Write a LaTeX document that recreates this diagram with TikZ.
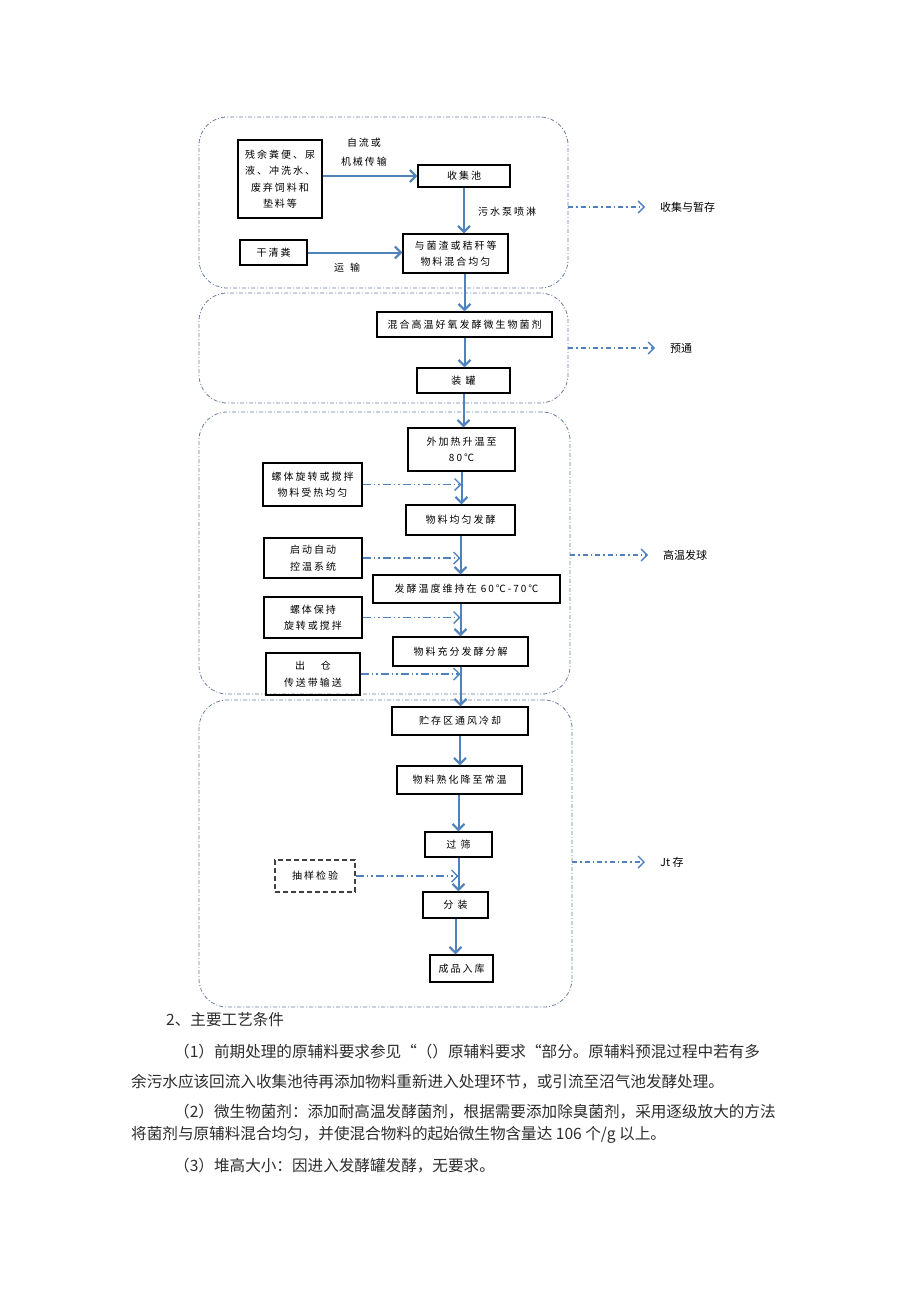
\documentclass[tikz,border=0pt]{standalone}
\usepackage{fontspec}
\usetikzlibrary{arrows.meta}
\newfontfamily\cjk{Noto Sans CJK SC}
\newfontfamily\cjkbox[LetterSpace=20]{Noto Sans CJK SC}
\definecolor{flowblue}{RGB}{79,129,189}
\definecolor{grpgray}{RGB}{110,128,158}
\definecolor{bodygray}{RGB}{45,45,45}

\begin{document}
\begin{tikzpicture}[x=1pt, y=-1pt,
    box/.style={draw, line width=1.4pt, inner sep=0pt, align=center,
        font=\cjkbox\fontsize{10}{16.5}\selectfont},
    grp/.style={draw=grpgray, line width=0.8pt, rounded corners=28pt,
        dash pattern=on 4pt off 2pt on 1pt off 2pt, inner sep=0pt},
    flow/.style={draw=flowblue, line width=2pt, -{Straight Barb[length=6pt,width=12pt]}},
    feed/.style={flow, line width=1.4pt, dash pattern=on 8pt off 3pt on 1.5pt off 3pt on 1.5pt off 3pt},
    stage/.style={flow, line width=1.4pt, dash pattern=on 5pt off 3pt on 1.5pt off 3pt, shorten >=15pt},
    lbl/.style={inner sep=0pt, align=center, font=\cjkbox\fontsize{10}{19}\selectfont},
    stagelbl/.style={inner sep=0pt, anchor=west, font=\cjk\fontsize{11}{13}\selectfont},
    body/.style={inner sep=0pt, anchor=west, text=bodygray, font=\cjk\fontsize{15.6}{18}\selectfont}]

    \useasboundingbox[fill=white] (0,0) rectangle (920,1301);

    \node[grp, minimum width=369pt, minimum height=171pt] (g1) at (383.5,202.5) {};
    \node[grp, minimum width=369pt, minimum height=110pt] (g2) at (383.5,348) {};
    \node[grp, minimum width=371pt, minimum height=282pt] (g3) at (384.5,553) {};
    \node[grp, minimum width=373pt, minimum height=307pt] (g4) at (385.5,853.5) {};

    \node[box, minimum width=84pt, minimum height=78pt] (src) at (280,179)
        {残余粪便、尿\\液、冲洗水、\\废弃饲料和\\垫料等};
    \node[box, minimum width=92pt, minimum height=22pt] (pool) at (464,176) {收集池};
    \node[box, minimum width=105pt, minimum height=39pt] (mix) at (455.5,253.5)
        {与菌渣或秸秆等\\物料混合均匀};
    \node[box, minimum width=67pt, minimum height=25pt] (dry) at (273.5,252.5) {干清粪};
    \node[box, minimum width=175pt, minimum height=25pt] (agent) at (464.5,324.5)
        {混合高温好氧发酵微生物菌剂};
    \node[box, minimum width=93pt, minimum height=25pt] (tank) at (463.5,380.5) {装 罐};
    \node[box, minimum width=107pt, minimum height=43pt] (heat) at (461.5,449.5)
        {外加热升温至\\80℃};
    \node[box, minimum width=99pt, minimum height=43pt] (stirA) at (312.5,484.5)
        {螺体旋转或搅拌\\物料受热均匀};
    \node[box, minimum width=109pt, minimum height=30pt] (ferm) at (460.5,520) {物料均匀发酵};
    \node[box, minimum width=98pt, minimum height=40pt] (ctrl) at (313,558)
        {启动自动\\控温系统};
    \node[box, minimum width=187pt, minimum height=28pt] (keep) at (466.5,589)
        {发酵温度维持在 60℃-70℃};
    \node[box, minimum width=98pt, minimum height=41pt] (stirB) at (313,617.5)
        {螺体保持\\旋转或搅拌};
    \node[box, minimum width=135pt, minimum height=29pt] (decomp) at (460.5,651.5)
        {物料充分发酵分解};
    \node[box, minimum width=94pt, minimum height=42pt] (exit) at (313,674)
        {出\hspace{16pt}仓\\传送带输送};
    \node[box, minimum width=136pt, minimum height=28pt] (cool) at (460,721) {贮存区通风冷却};
    \node[box, minimum width=125pt, minimum height=28pt] (mature) at (459.5,780)
        {物料熟化降至常温};
    \node[box, minimum width=67pt, minimum height=25pt] (sieve) at (458.5,844.5) {过 筛};
    \node[box, draw=black!75, dash pattern=on 5pt off 3pt, minimum width=80pt, minimum height=32pt]
        (sample) at (315,876) {抽样检验};
    \node[box, minimum width=65pt, minimum height=26pt] (pack) at (455.5,905) {分 装};
    \node[box, minimum width=63pt, minimum height=27pt] (store) at (461.5,968.5) {成品入库};

    \node[lbl] (lblA) at (364,152.5) {自流或\\机械传输};
    \node[lbl] (lblB) at (507,212) {污水泵喷淋};
    \node[lbl] (lblC) at (347,268) {运\hspace{6pt}输};

    \draw[flow] (src.east |- pool) -- (pool);
    \draw[flow] (pool) -- (pool |- mix.north);
    \draw[flow] (dry) -- (dry -| mix.west);
    \draw[flow] (agent |- mix.south) -- (agent);
    \draw[flow] (agent) -- (agent |- tank.north);
    \draw[flow] (tank) -- (tank |- heat.north);
    \draw[flow] (heat) -- (heat |- ferm.north);
    \draw[flow] (ferm) -- (ferm |- keep.north);
    \draw[flow] (decomp |- keep.south) -- (decomp);
    \draw[flow] (decomp) -- (decomp |- cool.north);
    \draw[flow] (cool) -- (cool |- mature.north);
    \draw[flow] (sieve |- mature.south) -- (sieve);
    \draw[flow] (sieve) -- (sieve |- pack.north);
    \draw[flow] (pack) -- (pack |- store.north);

    \draw[feed] (stirA) -- (stirA -| heat);
    \draw[feed] (ctrl) -- (ctrl -| ferm);
    \draw[feed] (stirB) -- (stirB -| decomp);
    \draw[feed] (exit) -- (exit -| decomp);
    \draw[feed] (sample) -- (sample -| sieve);

    \node[stagelbl] (lab1) at (660,207) {收集与暂存};
    \node[stagelbl] (lab2) at (670,348) {预通};
    \node[stagelbl] (lab3) at (663,555) {高温发球};
    \node[stagelbl] (lab4) at (660,862) {Jt 存};
    \draw[stage] (g1.east |- lab1) -- (lab1.west);
    \draw[stage] (g2.east |- lab2) -- (lab2.west);
    \draw[stage] (g3.east |- lab3) -- (lab3.west);
    \draw[stage] (g4.east |- lab4) -- (lab4.west);

    \node[body] (head) at (166,1020) {2、主要工艺条件};
    \node[body] (p1a) at (174,1052) {（1）前期处理的原辅料要求参见“（）原辅料要求“部分。原辅料预混过程中若有多};
    \node[body] (p1b) at (131,1082) {余污水应该回流入收集池待再添加物料重新进入处理环节，或引流至沼气池发酵处理。};
    \node[body] (p2a) at (174,1112) {（2）微生物菌剂：添加耐高温发酵菌剂，根据需要添加除臭菌剂，采用逐级放大的方法};
    \node[body] (p2b) at (131,1135) {将菌剂与原辅料混合均匀，并使混合物料的起始微生物含量达 106 个/g 以上。};
    \node[body] (p3) at (174,1166) {（3）堆高大小：因进入发酵罐发酵，无要求。};
\end{tikzpicture}
\end{document}
